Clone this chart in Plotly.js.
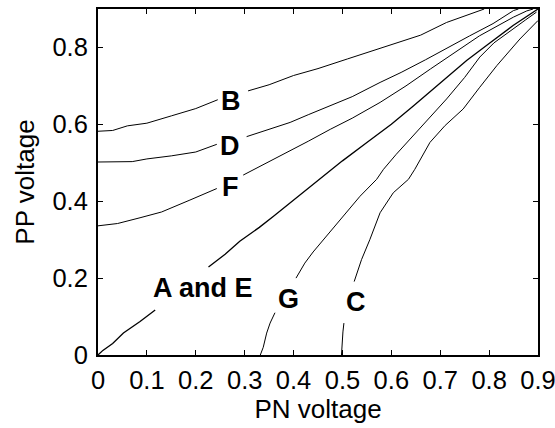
<!DOCTYPE html>
<html>
<head>
<meta charset="utf-8">
<script src="https://cdn.plot.ly/plotly-3.0.1.min.js"></script>
<style>
  html, body { margin: 0; padding: 0; background: #fff; }
  #plot { width: 555px; height: 428px; }
</style>
</head>
<body>
<div id="plot"></div>
<script>
// PP voltage as a function of PN voltage, one contour per case.
// null entries leave a gap where the case label sits.
const bX = [0, 0.03, 0.06, 0.10, 0.15, 0.20, 0.245, null, 0.307, 0.35, 0.40, 0.45, 0.51, 0.56, 0.61, 0.66, 0.713, 0.75, 0.79];
const bY = [0.582, 0.584, 0.596, 0.603, 0.622, 0.641, 0.664, null, 0.687, 0.703, 0.727, 0.745, 0.770, 0.790, 0.812, 0.832, 0.865, 0.882, 0.900];

const dX = [0, 0.04, 0.07, 0.10, 0.15, 0.20, 0.243, null, 0.304, 0.35, 0.393, 0.43, 0.475, 0.52, 0.577, 0.62, 0.67, 0.713, 0.76, 0.808, 0.85, 0.86];
const dY = [0.502, 0.502, 0.503, 0.510, 0.518, 0.528, 0.548, null, 0.568, 0.588, 0.605, 0.625, 0.648, 0.672, 0.709, 0.735, 0.768, 0.798, 0.830, 0.862, 0.896, 0.900];

const fX = [0, 0.04, 0.086, 0.13, 0.188, 0.243, null, 0.297, 0.34, 0.393, 0.43, 0.475, 0.52, 0.577, 0.63, 0.68, 0.73, 0.78, 0.85, 0.877, 0.89];
const fY = [0.336, 0.342, 0.357, 0.372, 0.403, 0.433, null, 0.468, 0.496, 0.530, 0.556, 0.587, 0.616, 0.657, 0.700, 0.744, 0.788, 0.830, 0.879, 0.895, 0.900];

const aeX = [0, 0.01, 0.03, 0.052, 0.086, 0.117, null, 0.226, 0.26, 0.29, 0.33, 0.359, 0.393, 0.454, 0.50, 0.55, 0.60, 0.645, 0.70, 0.754, 0.80, 0.849, 0.9];
const aeY = [0, 0.012, 0.030, 0.057, 0.087, 0.117, null, 0.229, 0.262, 0.296, 0.332, 0.361, 0.396, 0.457, 0.505, 0.553, 0.600, 0.648, 0.708, 0.766, 0.810, 0.857, 0.9];

const gX = [0.332, 0.338, 0.345, 0.352, 0.362, null, 0.405, 0.423, 0.44, 0.461, 0.498, 0.536, 0.570, 0.584, 0.61, 0.645, 0.68, 0.713, 0.75, 0.781, 0.81, 0.849, 0.875, 0.897];
const gY = [0, 0.020, 0.057, 0.083, 0.110, null, 0.200, 0.239, 0.268, 0.300, 0.357, 0.413, 0.457, 0.483, 0.522, 0.570, 0.620, 0.666, 0.722, 0.775, 0.812, 0.849, 0.872, 0.892];

const cX = [0.498, 0.499, 0.501, 0.503, null, 0.524, 0.539, 0.556, 0.577, 0.604, 0.635, 0.648, 0.679, 0.71, 0.747, 0.78, 0.816, 0.863, 0.9];
const cY = [0, 0.030, 0.060, 0.083, null, 0.191, 0.248, 0.300, 0.370, 0.422, 0.457, 0.483, 0.553, 0.597, 0.640, 0.695, 0.753, 0.822, 0.870];

// Case labels and where they sit on the chart
const labelText = ['B', 'D', 'F', 'A and E', 'G', 'C'];
const labelX = [0.273, 0.269, 0.270, 0.215, 0.389, 0.528];
const labelY = [0.661, 0.544, 0.438, 0.174, 0.145, 0.139];

const xTicks = [0, 0.1, 0.2, 0.3, 0.4, 0.5, 0.6, 0.7, 0.8, 0.9];
const xTickText = ['0', '0.1', '0.2', '0.3', '0.4', '0.5', '0.6', '0.7', '0.8', '0.9'];
const yTicks = [0, 0.2, 0.4, 0.6, 0.8];
const yTickText = ['0', '0.2', '0.4', '0.6', '0.8'];

const FONT = 'Liberation Sans, Arial, Helvetica, sans-serif';

function curve(x, y, w) {
  return {
    x: x, y: y, type: 'scatter', mode: 'lines',
    line: { color: '#000', width: w },
    connectgaps: false, hoverinfo: 'skip', showlegend: false
  };
}

const data = [
  curve(bX, bY, 1),
  curve(dX, dY, 1),
  curve(fX, fY, 1),
  curve(aeX, aeY, 1.3),
  curve(gX, gY, 1),
  curve(cX, cY, 1)
];

const annotations = labelText.map((t, i) => ({
  x: labelX[i], y: labelY[i], xref: 'x', yref: 'y',
  text: '<b>' + t + '</b>', showarrow: false,
  font: { family: FONT, size: 27, color: '#000' },
  xanchor: 'center', yanchor: 'middle'
}));

const axisCommon = {
  showgrid: false, zeroline: false,
  showline: true, linecolor: '#000', linewidth: 2, mirror: 'ticks',
  ticks: 'inside', ticklen: 5, tickwidth: 1, tickcolor: '#000',
  tickfont: { family: FONT, size: 25.5, color: '#000' },
  ticklabeloverflow: 'allow',
  tickmode: 'array', fixedrange: true
};

const layout = {
  width: 555, height: 428,
  margin: { l: 98, r: 17, t: 9, b: 73, pad: 0 },
  paper_bgcolor: '#fff', plot_bgcolor: '#fff',
  showlegend: false,
  xaxis: Object.assign({}, axisCommon, {
    range: [0, 0.9], tickvals: xTicks, ticktext: xTickText,
    ticklabelstandoff: 1,
    title: { text: 'PN voltage', font: { family: FONT, size: 26, color: '#000' }, standoff: 2 }
  }),
  yaxis: Object.assign({}, axisCommon, {
    range: [0, 0.9], tickvals: yTicks, ticktext: yTickText,
    ticklabelstandoff: 3,
    title: { text: 'PP voltage', font: { family: FONT, size: 26, color: '#000' }, standoff: 10 }
  }),
  annotations: annotations
};

Plotly.newPlot('plot', data, layout, { staticPlot: true, displayModeBar: false });
</script>
</body>
</html>
